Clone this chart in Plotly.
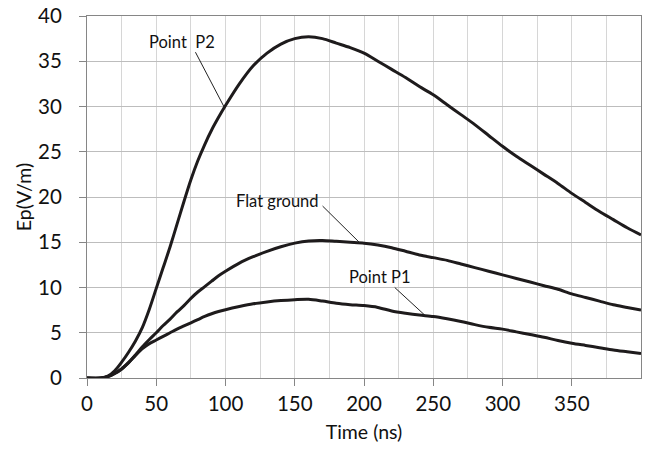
import numpy as np
import plotly.graph_objects as go

# Time axis samples (ns)
time_ns = [0, 10, 15, 20, 25, 30, 35, 40, 45, 50, 55, 60, 65, 70, 75, 80, 85, 90, 95,
           100, 110, 120, 130, 140, 150, 160, 170, 180, 190, 200, 210, 220, 230, 240,
           250, 260, 270, 280, 290, 300, 310, 320, 330, 340, 350, 360, 370, 380, 390, 400]

# Field Ep (V/m) at point P2
ep_p2 = [0, 0, 0.2, 0.8, 1.75, 2.85, 4.1, 5.6, 7.6, 9.9, 12.2, 14.5, 17.0, 19.5, 21.9, 24.0, 25.8, 27.4, 28.8,
         30.1, 32.5, 34.5, 35.9, 36.9, 37.5, 37.7, 37.5, 37.0, 36.5, 35.9, 35.0, 34.1, 33.2, 32.2,
         31.3, 30.2, 29.1, 28.0, 26.8, 25.6, 24.5, 23.5, 22.5, 21.5, 20.4, 19.4, 18.4, 17.5, 16.6, 15.8]

# Field Ep (V/m) over flat ground
ep_flat = [0, 0, 0.15, 0.5, 1.0, 1.7, 2.55, 3.45, 4.25, 5.0, 5.8, 6.5, 7.3, 8.0, 8.8, 9.5, 10.1, 10.7, 11.3,
           11.8, 12.7, 13.4, 14.0, 14.5, 14.9, 15.15, 15.2, 15.1, 15.0, 14.9, 14.7, 14.4, 14.0, 13.6,
           13.3, 13.0, 12.6, 12.2, 11.8, 11.4, 11.0, 10.6, 10.2, 9.8, 9.3, 8.9, 8.5, 8.1, 7.8, 7.5]

# Field Ep (V/m) at point P1
ep_p1 = [0, 0, 0.15, 0.5, 1.0, 1.7, 2.5, 3.25, 3.8, 4.2, 4.6, 5.0, 5.4, 5.75, 6.1, 6.45, 6.8, 7.1, 7.35,
         7.55, 7.9, 8.2, 8.4, 8.55, 8.65, 8.7, 8.5, 8.25, 8.1, 8.0, 7.8, 7.4, 7.15, 6.95,
         6.8, 6.55, 6.25, 5.9, 5.6, 5.4, 5.1, 4.8, 4.5, 4.15, 3.85, 3.6, 3.35, 3.1, 2.9, 2.7]

x_ticks = [0, 50, 100, 150, 200, 250, 300, 350]
x_minor = [25, 75, 125, 175, 225, 275, 325, 375]
y_ticks = [0, 5, 10, 15, 20, 25, 30, 35, 40]

# Curve labels: (text, series, label centre, leader start, time where leader meets curve)
labels = [
    ("Point  P2", ep_p2, (68.7, 37.15), (78.3, 36.0), 99.2),
    ("Flat ground", ep_flat, (137.9, 19.55), (170.1, 19.0), 197.0),
    ("Point P1", ep_p1, (211.4, 11.15), (222.2, 10.0), 244.3),
]

FONT = "Lato, 'Open Sans', sans-serif"
CURVE = "#1e1b1c"

fig = go.Figure()
for series in (ep_p2, ep_flat, ep_p1):
    fig.add_trace(go.Scatter(x=time_ns, y=series, mode="lines",
                             line=dict(color=CURVE, width=3, shape="spline", smoothing=0.8),
                             showlegend=False, hoverinfo="skip"))

for text, series, (tx, ty), (sx, sy), t_hit in labels:
    e_hit = float(np.interp(t_hit, time_ns, series))
    fig.add_shape(type="line", xref="x", yref="y", x0=sx, y0=sy, x1=t_hit, y1=e_hit,
                  line=dict(color="#222222", width=1))
    fig.add_annotation(x=tx, y=ty, xref="x", yref="y", text=text, showarrow=False,
                       font=dict(family=FONT, size=16.5, color="#111111"))

axis_common = dict(showline=True, linecolor="#868686", linewidth=1, mirror=True,
                   ticks="outside", ticklen=7, tickcolor="#868686", zeroline=False,
                   ticklabeloverflow="allow",
                   tickfont=dict(family=FONT, size=20.5, color="#111111"))

fig.update_xaxes(range=[0, 400], tickmode="array", tickvals=x_ticks,
                 showgrid=True, gridcolor="#d6d6d6", gridwidth=1,
                 minor=dict(tickmode="array", tickvals=x_minor, showgrid=True,
                            gridcolor="#d6d6d6", gridwidth=1, ticks=""),
                 title=dict(text="Time (ns)", font=dict(family=FONT, size=19.5, color="#111111"),
                            standoff=11),
                 **axis_common)
fig.update_yaxes(range=[0, 40], tickmode="array", tickvals=y_ticks,
                 showgrid=True, gridcolor="#bdbdbd", gridwidth=1, ticklabelstandoff=13,
                 title=dict(text="Ep(V/m)", font=dict(family=FONT, size=19.5, color="#111111"),
                            standoff=1),
                 **axis_common)

fig.update_layout(width=645, height=449, plot_bgcolor="white", paper_bgcolor="white",
                  margin=dict(l=87, r=3, t=11, b=71))

fig.write_html("out.html")
